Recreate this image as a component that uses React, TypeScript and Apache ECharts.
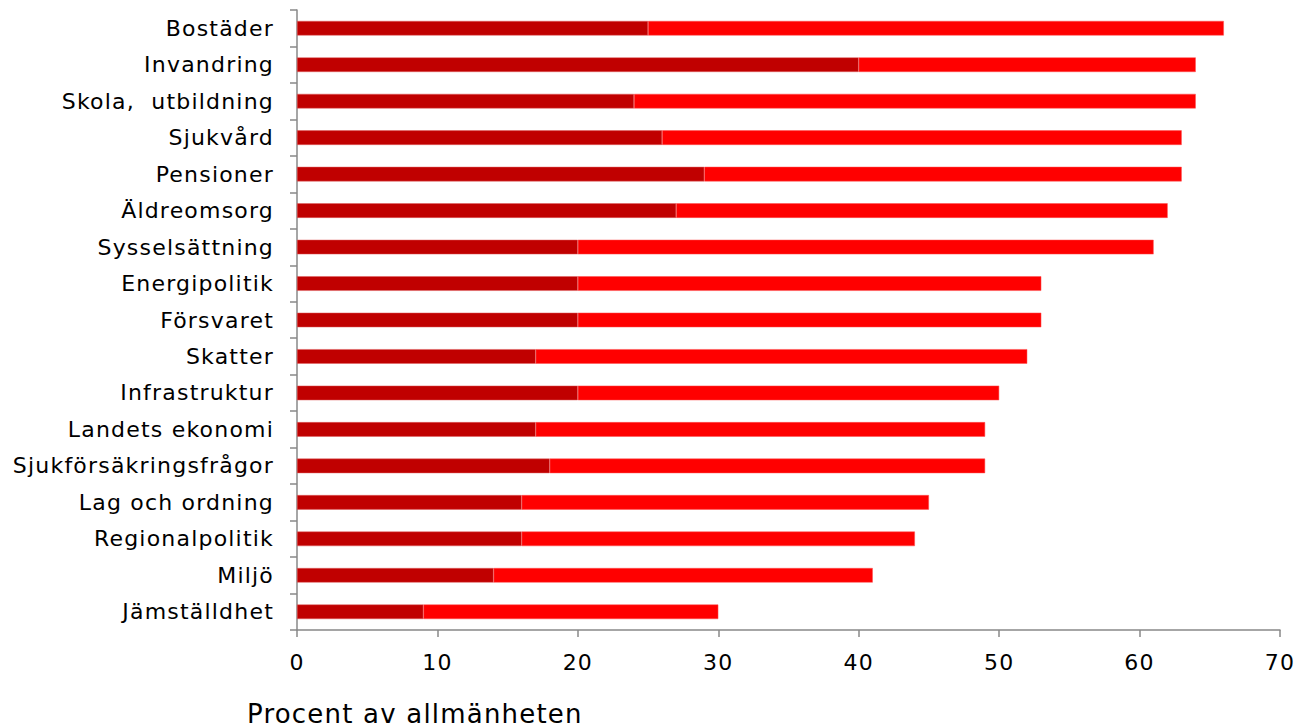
import React, { useEffect, useRef } from "react";
import * as echarts from "echarts";

const categories = [
  "Bostäder",
  "Invandring",
  "Skola,  utbildning",
  "Sjukvård",
  "Pensioner",
  "Äldreomsorg",
  "Sysselsättning",
  "Energipolitik",
  "Försvaret",
  "Skatter",
  "Infrastruktur",
  "Landets ekonomi",
  "Sjukförsäkringsfrågor",
  "Lag och ordning",
  "Regionalpolitik",
  "Miljö",
  "Jämställdhet",
];
const darkValues = [25, 40, 24, 26, 29, 27, 20, 20, 20, 17, 20, 17, 18, 16, 16, 14, 9];
const totalValues = [66, 64, 64, 63, 63, 62, 61, 53, 53, 52, 50, 49, 49, 45, 44, 41, 30];
const xTicks = [0, 10, 20, 30, 40, 50, 60, 70];
const axisTitle = "Procent av allmänheten";

export default function App() {
  const ref = useRef<HTMLDivElement>(null);
  useEffect(() => {
    if (!ref.current) return;
    const chart = echarts.init(ref.current, null, { renderer: "svg" });
    const cats = [...categories].reverse();
    const dark = [...darkValues].reverse();
    const light = [...totalValues].reverse().map((t, i) => t - dark[i]);
    const font = "DejaVu Sans, Verdana, sans-serif";
    chart.setOption({
      animation: false,
      title: {
        text: axisTitle,
        left: 242,
        top: 696,
        textStyle: { fontFamily: font, fontSize: 26, fontWeight: "normal", color: "#000" },
      },
      grid: { left: 297, right: 16, top: 10, bottom: 95, containLabel: false },
      xAxis: {
        type: "value",
        min: xTicks[0],
        max: xTicks[xTicks.length - 1],
        interval: 10,
        axisLine: { show: true, lineStyle: { color: "#888", width: 1.5 } },
        axisTick: { show: true, length: 7, lineStyle: { color: "#888", width: 1.5 } },
        splitLine: { show: false },
        axisLabel: { fontFamily: font, fontSize: 22, color: "#000", margin: 21 },
      },
      yAxis: {
        type: "category",
        data: cats,
        axisLine: { show: true, lineStyle: { color: "#888", width: 1.5 } },
        axisTick: { show: true, length: 7, lineStyle: { color: "#888", width: 1.5 } },
        axisLabel: { fontFamily: font, fontSize: 22, color: "#000", margin: 23 },
      },
      series: [
        {
          type: "bar",
          stack: "a",
          data: dark,
          barWidth: "40%",
          itemStyle: { color: "#C00000", borderColor: "#E06060", borderWidth: 0.5 },
        },
        {
          type: "bar",
          stack: "a",
          data: light,
          barWidth: "40%",
          itemStyle: { color: "#FF0000", borderColor: "#FF5050", borderWidth: 0.5 },
        },
      ],
    });
    return () => chart.dispose();
  }, []);
  return (
    <div id="chartwrap">
      <style>{`#chartwrap svg text { letter-spacing: 1.2px; }`}</style>
      <div ref={ref} style={{ width: 1297, height: 725, position: "absolute", left: 0, top: 0 }} />
    </div>
  );
}
